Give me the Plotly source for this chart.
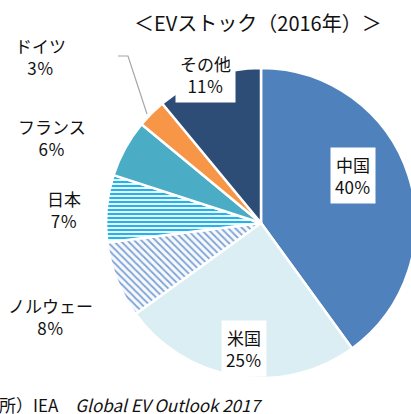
import plotly.graph_objects as go

countries = ["中国", "米国", "ノルウェー", "日本", "フランス", "ドイツ", "その他"]
shares = [40, 25, 8, 7, 6, 3, 11]
title_text = "＜EVストック（2016年）＞"
source_text = "出所）IEA　<i>Global EV Outlook 2017</i>"

W, H = 421, 414
colors = ["#4F81BD", "#DAEEF3", "#F7FAFD", "#EAF7FD", "#4BACC6", "#F79646", "#2D4D77"]
shapes_pat = ["", "", "\\", "-", "", "", ""]
fg = ["#4F81BD", "#DAEEF3", "#7FA3D6", "#22B2EC", "#4BACC6", "#F79646", "#2D4D77"]

fig = go.Figure(go.Pie(
    labels=countries, values=shares, sort=False, direction="clockwise", rotation=0,
    textinfo="none", hoverinfo="label+percent",
    marker=dict(colors=colors, line=dict(color="white", width=2.5),
                pattern=dict(shape=shapes_pat, fgcolor=fg, bgcolor=colors, size=[6, 6, 5, 4, 6, 6, 6],
                             solidity=[0.3, 0.3, 0.35, 0.5, 0.3, 0.3, 0.3])),
    domain=dict(x=[106 / W, 416 / W], y=[36 / H, 346 / H]),
    showlegend=False,
))

FONT = "Noto Sans CJK JP"
def px(x, y):
    return x / W, 1 - y / H

# label positions (pixel layout)
label_pos = {
    "中国": (353, 175, True),
    "米国": (244, 348, True),
    "ノルウェー": (50, 316, False),
    "日本": (64, 209, False),
    "フランス": (52, 137, False),
    "ドイツ": (40, 57, False),
    "その他": (205, 74, True),
}
anns = []
for c, v in zip(countries, shares):
    x, y, boxed = label_pos[c]
    ax, ay = px(x, y)
    anns.append(dict(x=ax, y=ay, xref="paper", yref="paper", xanchor="center", yanchor="middle",
                     showarrow=False,
                     text=f"{c}<br>{v}％", font=dict(family=FONT, size=17, color="#111111"),
                     bgcolor="white" if boxed else None, borderpad=4, align="center"))
tx, ty = px(258, 22)
anns.append(dict(x=tx, y=ty, xref="paper", yref="paper", xanchor="center", yanchor="middle",
                 showarrow=False, text=title_text,
                 font=dict(family=FONT, size=20, color="#111111")))
sx, sy = px(264, 404)
anns.append(dict(x=sx, y=sy, xref="paper", yref="paper", xanchor="right", yanchor="middle",
                 showarrow=False, text=source_text, font=dict(family=FONT, size=17, color="#111111")))

p1 = px(118, 56); p2 = px(128, 56); p3 = px(147, 114)
fig.add_shape(type="path", xref="paper", yref="paper",
              path=f"M {p1[0]} {p1[1]} L {p2[0]} {p2[1]} L {p3[0]} {p3[1]}",
              line=dict(color="#A6A6A6", width=1.2))

fig.update_layout(width=W, height=H, margin=dict(l=0, r=0, t=0, b=0),
                  paper_bgcolor="white", plot_bgcolor="white", annotations=anns)
fig.write_html("out.html", config={"displayModeBar": False},
               post_script="document.body.style.margin='0';document.body.style.overflow='hidden';")
